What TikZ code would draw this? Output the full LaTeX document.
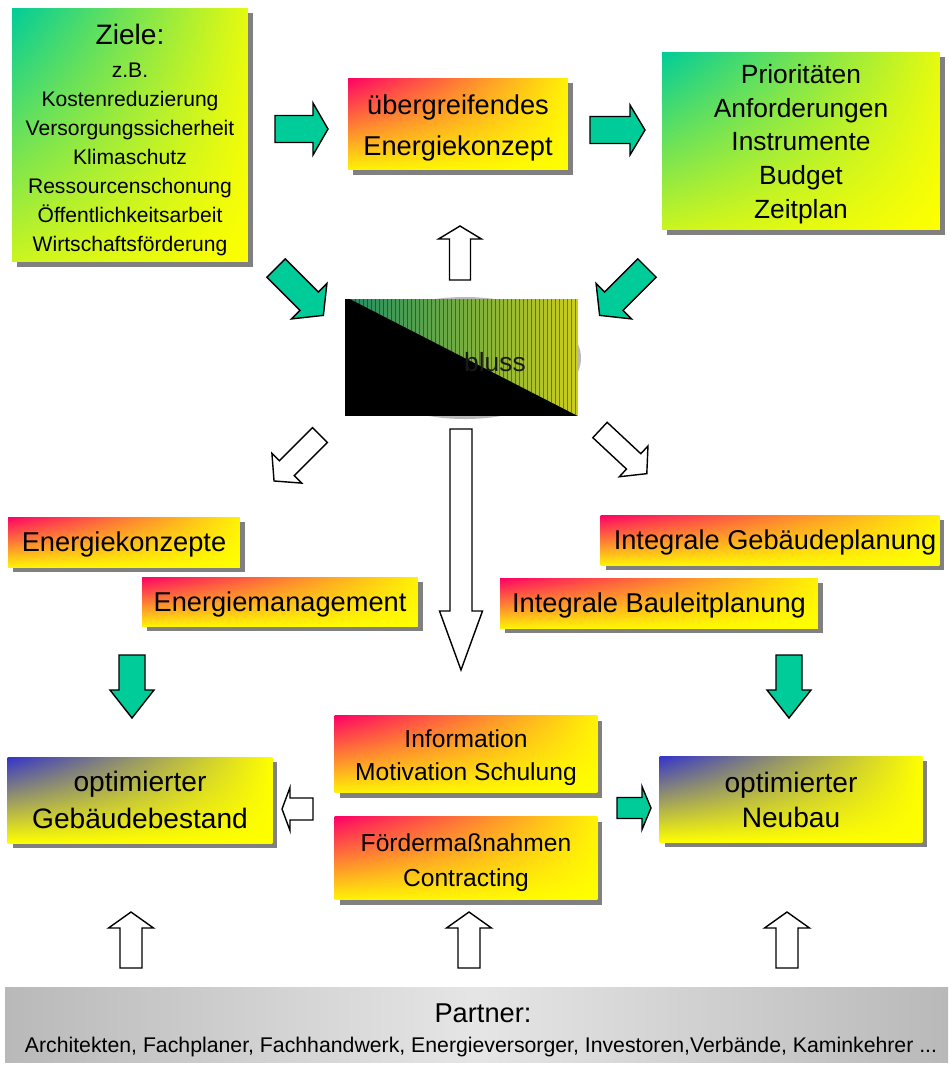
\documentclass[tikz,border=0pt]{standalone}
\usepackage{fontspec}
\setmainfont{Liberation Sans}
\usetikzlibrary{shadows,shadings}

\definecolor{zteal}{RGB}{0,204,153}
\definecolor{zred}{RGB}{255,0,102}
\definecolor{zorange}{RGB}{255,170,40}
\definecolor{zblue}{RGB}{51,51,204}
\definecolor{zshadow}{RGB}{128,128,128}

\newcommand{\setfs}[2]{\fontsize{#1}{#2}\selectfont}
% block arrow: [style]{tail}{angle}{length}{shaft}{head width}{head length}
\newcommand{\blkarrow}[7][]{%
  \draw[#1,shift={#2},rotate=#3]
    (0,-#5/2) -- (#4-#7,-#5/2) -- (#4-#7,-#6/2) -- (#4,0)
    -- (#4-#7,#6/2) -- (#4-#7,#5/2) -- (0,#5/2) -- cycle;}

\begin{document}
\begin{tikzpicture}[x=0.02cm,y=-0.02cm,
    shadowed/.style={drop shadow={shadow xshift=0.1cm,shadow yshift=-0.1cm,fill=zshadow,opacity=1}},
    greenbox/.style={shadowed,shade,upper left=zteal,upper right=yellow!90!zteal,
      lower left=yellow!80!zteal,lower right=yellow,align=center,inner sep=0pt},
    redbox/.style={shadowed,shade,upper left=zred,upper right=yellow!85!zorange,
      lower left=yellow!85!zorange,lower right=yellow,align=center,inner sep=0pt},
    bluebox/.style={shadowed,shade,upper left=zblue,upper right=yellow,
      lower left=yellow,lower right=yellow,align=center,inner sep=0pt},
    oneline/.style={text depth=0pt,font=\setfs{15.5}{18}},
    tealarrow/.style={draw=black,fill=zteal,line width=0.8pt,line join=miter},
    whitearrow/.style={draw=black,fill=white,line width=0.8pt,line join=miter}]

    \useasboundingbox (0,0) rectangle (948,1066);

    % top row
    \node[greenbox,minimum width=4.72cm,minimum height=5.08cm,font=\setfs{12}{16.5}] (ziele) at (130,135)
      {\rule{0pt}{17.2pt}{\setfs{16}{18}Ziele:}\\[2.4pt] z.B.\\ Kostenreduzierung\\ Versorgungssicherheit\\ Klimaschutz\\
       Ressourcenschonung\\ Öffentlichkeitsarbeit\\ Wirtschaftsförderung};
    \node[redbox,minimum width=4.4cm,minimum height=1.84cm,font=\setfs{15.5}{23}] (konzept) at (458,124)
      {\rule{0pt}{15.8pt}übergreifendes\\ Energiekonzept};
    \node[greenbox,minimum width=5.56cm,minimum height=3.56cm,font=\setfs{15}{19.3}] (prio) at (801,141)
      {\rule{0pt}{14.4pt}Prioritäten\\ Anforderungen\\ Instrumente\\ Budget\\ Zeitplan};

    % Beschluss
    \fill[gray!55] (465,358) ellipse [x radius=116, y radius=61];
    \fill[black] (345,299) rectangle (578,416);
    \begin{scope}
      \clip (350,299) -- (578,299) -- (578,416) -- cycle;
      \shade[left color={rgb,255:red,30;green,140;blue,100},right color={rgb,255:red,205;green,205;blue,30}]
        (345,299) rectangle (578,416);
      \foreach \i in {351,355,...,578}
        \draw[black,opacity=0.4,line width=0.5pt] (\i,299) -- (\i,416);
    \end{scope}
    \node[font=\setfs{15}{18},text=black!90] (beschluss) at (495,362) {bluss};

    % middle row
    \node[redbox,oneline,minimum width=4.64cm,minimum height=1cm] (ekonzepte) at (124,542) {Energiekonzepte};
    \node[redbox,oneline,minimum width=5.52cm,minimum height=0.98cm] (emanagement) at (280,601.5) {Energiemanagement};
    \node[redbox,oneline,minimum width=6.78cm,minimum height=1cm] (gebplanung) at (770,540)
      {\hspace*{5.7pt}Integrale Gebäudeplanung};
    \node[redbox,oneline,minimum width=6.36cm,minimum height=1cm] (bauplanung) at (659,603) {Integrale Bauleitplanung};

    % lower row
    \node[bluebox,minimum width=5.3cm,minimum height=1.72cm,font=\setfs{16}{21.5}] (bestand) at (140,800)
      {optimierter\\ Gebäudebestand};
    \node[redbox,minimum width=5.26cm,minimum height=1.54cm,font=\setfs{14}{19}] (info) at (466,754)
      {\rule{0pt}{14.2pt}Information\\ Motivation Schulung};
    \node[redbox,minimum width=5.26cm,minimum height=1.66cm,font=\setfs{14}{20}] (foerder) at (466,858)
      {\rule{0pt}{15.6pt}Fördermaßnahmen\\ Contracting};
    \node[bluebox,minimum width=5.26cm,minimum height=1.72cm,font=\setfs{16}{20}] (neubau) at (791,799)
      {\rule{0pt}{13pt}optimierter\\ Neubau};

    % Partner
    \shade[left color=gray!55,right color=gray!55,middle color=gray!20] (5,987) rectangle (948,1062);
    \node[font=\setfs{15.5}{18}] (partner) at (483,1013) {Partner:};
    \node[font=\setfs{12.1}{14}] (partnerlist) at (481,1047)
      {Architekten, Fachplaner, Fachhandwerk, Energieversorger, Investoren,Verbände, Kaminkehrer ...};

    % arrows
    \blkarrow[tealarrow]{(275,129)}{0}{53}{27}{52}{15}
    \blkarrow[tealarrow]{(590,130)}{0}{55}{27}{50}{15}
    \blkarrow[tealarrow]{(276,268)}{-45}{67}{26}{50}{20}
    \blkarrow[tealarrow]{(647,268)}{-135}{67}{26}{50}{20}
    \blkarrow[whitearrow]{(460,280)}{90}{54}{21}{43}{13}
    \blkarrow[whitearrow]{(320,435)}{-135}{65}{21}{42}{18}
    \blkarrow[whitearrow]{(600,430)}{-43}{64}{21}{42}{18}
    \blkarrow[whitearrow]{(461,429)}{-90}{241}{22}{43}{59}
    \blkarrow[tealarrow]{(132,655)}{-90}{63}{26}{44}{28}
    \blkarrow[tealarrow]{(789,655)}{-90}{63}{26}{44}{28}
    \blkarrow[whitearrow]{(313,809)}{180}{31}{22}{43}{8}
    \blkarrow[tealarrow]{(617,808)}{0}{34}{21}{43}{9}
    \blkarrow[whitearrow]{(131,968)}{90}{56}{22}{45}{16}
    \blkarrow[whitearrow]{(469,968)}{90}{56}{22}{45}{16}
    \blkarrow[whitearrow]{(787,968)}{90}{56}{22}{45}{16}

\end{tikzpicture}
\end{document}
